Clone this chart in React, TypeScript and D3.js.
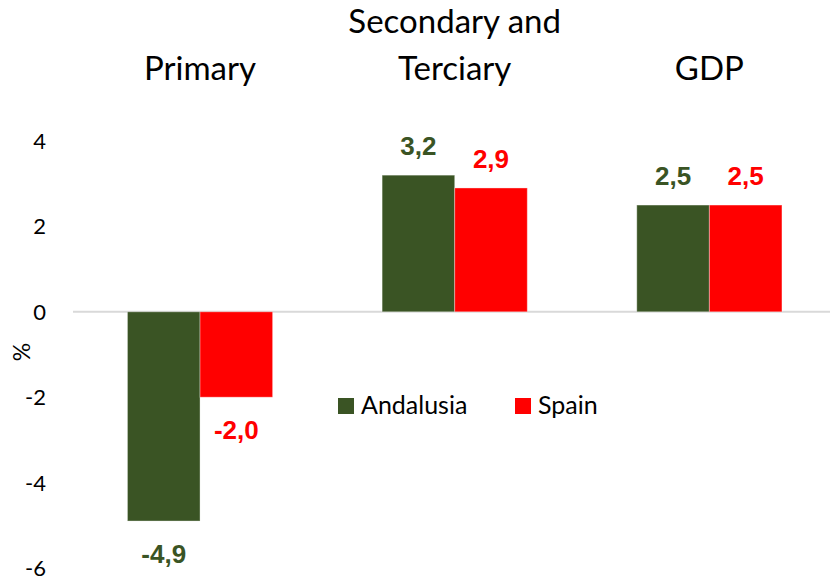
import React from "react";
import * as d3 from "d3";

const categories = ["Primary", "Secondary and Terciary", "GDP"];
const categoryLines = [["Primary"], ["Secondary and", "Terciary"], ["GDP"]];
const seriesNames = ["Andalusia", "Spain"];
const andalusia = [-4.9, 3.2, 2.5];
const spain = [-2.0, 2.9, 2.5];
const yTicks = [-6, -4, -2, 0, 2, 4];
const colors = ["#3A5424", "#FF0000"];

const W = 830;
const H = 580;

export default function App() {
  const seriesValues = [andalusia, spain];
  const y = d3.scaleLinear().domain([-6, 4]).range([568, 141]);
  const x0 = d3
    .scaleBand<string>()
    .domain(categories)
    .range([72.7, 836.7])
    .paddingInner(0.43)
    .paddingOuter(0.215);
  const x1 = d3
    .scaleBand<string>()
    .domain(seriesNames)
    .range([0, x0.bandwidth()]);
  const fmt = (v: number) => d3.format(".1f")(v).replace(".", ",").replace("\u2212", "-");
  const textFont = "Lato, 'Open Sans', sans-serif";
  const labelFont = "'Liberation Sans', Arial, sans-serif";

  return (
    <svg
      width={W}
      height={H}
      style={{ position: "absolute", left: 0, top: 0, background: "#fff" }}
    >
      {/* category titles */}
      {categories.map((c, i) => {
        const lines = categoryLines[i];
        const cx = x0(c)! + x0.bandwidth() / 2;
        return (
          <text
            key={c}
            x={cx}
            textAnchor="middle"
            fontFamily={textFont}
            fontSize={33}
            fill="#000"
          >
            {lines.map((l, j) => (
              <tspan key={j} x={cx} y={80 - (lines.length - 1 - j) * 47}>
                {l}
              </tspan>
            ))}
          </text>
        );
      })}

      {/* y tick labels */}
      {yTicks.map((t) => (
        <text
          key={t}
          x={46}
          y={y(t)}
          dy="0.36em"
          textAnchor="end"
          fontFamily={textFont}
          fontSize={22}
          fill="#000"
        >
          {t}
        </text>
      ))}
      <text
        transform={`translate(30,352) rotate(-90)`}
        textAnchor="middle"
        fontFamily={textFont}
        fontSize={23}
        fill="#000"
      >
        %
      </text>

      {/* zero line */}
      <line x1={73} x2={W} y1={y(0)} y2={y(0)} stroke="#d9d9d9" strokeWidth={2} />

      {/* bars */}
      {categories.map((c, i) => (
        <g key={c} transform={`translate(${x0(c)},0)`}>
          {seriesNames.map((s, k) => {
            const v = seriesValues[k][i];
            const bx = x1(s)!;
            const top = Math.min(y(v), y(0));
            const h = Math.abs(y(v) - y(0));
            return (
              <g key={s}>
                <rect
                  x={bx}
                  y={top}
                  width={x1.bandwidth()}
                  height={h}
                  fill={colors[k]}
                  stroke="rgba(255,255,255,0.35)"
                  strokeWidth={1}
                />
                <text
                  x={bx + x1.bandwidth() / 2}
                  y={v >= 0 ? y(v) - 20 : y(v) + 42}
                  textAnchor="middle"
                  fontFamily={labelFont}
                  fontWeight="bold"
                  fontSize={26}
                  fill={colors[k]}
                >
                  {fmt(v)}
                </text>
              </g>
            );
          })}
        </g>
      ))}

      {/* legend */}
      <g>
        <rect x={338} y={398} width={16} height={16} fill={colors[0]} />
        <text x={361} y={414} fontFamily={textFont} fontSize={25} fill="#000">
          {seriesNames[0]}
        </text>
        <rect x={515} y={398} width={16} height={16} fill={colors[1]} />
        <text x={538} y={414} fontFamily={textFont} fontSize={25} fill="#000">
          {seriesNames[1]}
        </text>
      </g>
    </svg>
  );
}
